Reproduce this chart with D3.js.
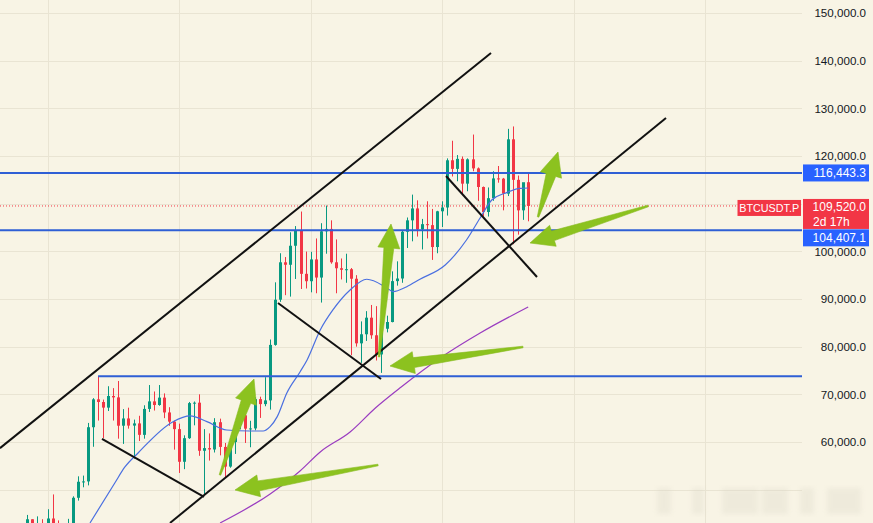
<!DOCTYPE html>
<html><head><meta charset="utf-8">
<script src="https://cdn.jsdelivr.net/npm/d3@7"></script>
<style>html,body{margin:0;padding:0;background:#f8f4e5;overflow:hidden}</style>
</head><body><svg id="c" width="873" height="523"></svg>
<script>
// Weekly candles, BTCUSDT.P (week index 0 = 27 Nov 2023)
const opens  = [37450,39970,43790,41370,43010,42280,43950,41730,41580,42030,42580,48300,51660,51730,63100,68950,68390,67210,69650,69360,63420,64940,63440,63900,61500,66940,68520,67760,69310,66200,64270,62700,55850,60800,68160,68250,58160,58720,58430,64150,58970,54840,59990,63580,65600,62800,62850,69000,67950,68730,80370,89850,97700,97180,101170,104300,95280,93730,98300,94500,104200,104700,97700,96450,96130,96250,94250,80700,82600,86080,82390,78370,83760,85170,93750,94300,104100,106500,109000,104600,105700,105500,100900,108400,109200,119100,117300,119400,114200,119300,117400,113500,108250,111150,115300,115250,112100,123500,115000,108600,114500];
const highs  = [40250,44700,43800,44400,43800,45900,49000,43550,42850,43880,48600,52800,52950,64000,69200,73777,68900,71700,71300,72800,66900,67200,64700,65500,67700,71950,70600,71950,70200,67300,64500,63850,61400,68400,68500,70000,62700,61800,65000,64900,59800,60700,64100,66500,66000,64450,69400,69500,73600,81500,93500,99600,98800,104000,105300,108350,99950,99900,102700,105900,109600,106500,102500,98500,99500,96500,95000,85300,87450,88750,88500,86100,86500,95800,97900,104400,107100,111900,110700,106800,110500,108900,108500,110500,119500,123200,120200,119900,119500,124500,117600,113600,113400,116800,117900,115400,125700,126200,115900,114000,116400];
const lows   = [37400,39970,40200,40550,41400,40750,41500,40280,38500,41800,42250,47700,50500,50900,59000,64500,60800,66500,64500,60700,59600,62800,56500,60200,60700,66300,66600,67600,65000,63400,58400,53500,54300,60650,63500,57100,49000,56100,57800,57200,52550,54600,57500,62650,59800,58900,62450,65050,67500,66800,80200,89400,90800,90500,94200,92100,92200,91400,91200,89250,99500,97400,91200,94100,93400,78200,80000,76600,81200,81650,77100,74500,83000,85100,92800,93400,100700,102100,103100,100400,102700,98200,99600,105100,107500,115700,114700,112000,112600,116800,110600,107300,107300,110600,114400,108600,111600,101500,103500,106600,106300];
const closes = [39970,43790,41370,43010,42280,43950,41730,41580,42030,42580,48300,51660,51730,63100,68950,68390,67210,69650,69360,63420,64940,63440,63900,61500,66940,68520,67760,69310,66200,64270,62700,55850,60800,68160,68250,58160,58720,58430,64150,58970,54840,59990,63580,65600,62800,62850,69000,67950,68730,80370,89850,97700,97180,101170,104300,95280,93730,98300,94500,104200,104700,97700,96450,96130,96250,94250,80700,82600,86080,82390,78370,83760,85170,93750,94300,104100,106500,109000,104600,105700,105500,100900,108400,109200,119100,117300,119400,114200,119300,117400,113500,108250,111150,115300,115250,112100,123500,115000,108600,114500,109520];

const priceTicks = [50000,60000,70000,80000,90000,100000,110000,120000,130000,140000,150000];
// 110,000.0 sits under the last-price box in the reference, so it is not printed
const priceLabels = [60000,70000,80000,90000,100000,120000,130000,140000,150000];
const timeGridWeeks = [5,31,57,83,109,135];

// moving averages: [week index, price]
const blueMA = [[13.4,43014],[18.3,51405],[20.3,54760],[22.9,57700],[29.8,64265],[33.2,65460],[36.5,64265],[40.4,62520],[45.0,62310],[47.6,62310],[49.0,63220],[50.4,65320],[52.3,70290],[54.9,74690],[56.3,77210],[58.9,83500],[61.4,87700],[64.8,91890],[68.1,94140],[72.0,92380],[73.3,91540],[76.0,92580],[78.6,94140],[83.6,97140],[87.8,102380],[90.5,107000],[92.8,110770],[95.4,112180],[98.4,113220],[100,113290]];
const purpleMA = [[39.1,43010],[49.0,49100],[54.9,53920],[58.9,57910],[64.8,62100],[69.8,67140],[74.9,71550],[82.6,77630],[90.5,82870],[100,88330]];

// drawings: trend lines [[week, price],[week, price]]
const trendLines = [
  [[-4.4,58700],[92.65,141609]],
  [[29.21,43014],[127.23,127974]],
  [[15.77,60636],[35.93,48469]],
  [[50.55,89165],[70.91,73222]],
  [[83.76,115807],[101.74,94619]]
];
const levelLines = [{price:116443.3, from:-10},{price:104407.1, from:-10},{price:73777, from:15}];
// arrows: [tail week, tail price, tip week, tip price]
const arrows = [
  [39.09,53084,45.81,73222],
  [70.32,55181,42.06,49937],
  [70.51,77837,72.89,105737],
  [98.97,79935,72.69,75949],
  [101.94,107206,105.89,120841],
  [123.68,109513,100.36,101752]
];
const lastPrice = 109520.0;
const symbol = "BTCUSDT.P";
const countdown = "2d 17h";

const W = 873, H = 523, plotR = 802;
const svg = d3.select('#c');
const x = d3.scaleLinear().domain([5,135]).range([47.5,705.3]);
const y = d3.scaleLinear().domain([60000,150000]).range([442,13]);
const fmt = d3.format(",.1f");

svg.append('rect').attr('width',W).attr('height',H).attr('fill','#f8f4e5');
const defs = svg.append('defs');
defs.append('clipPath').attr('id','plot').append('rect').attr('x',0).attr('y',0).attr('width',plotR).attr('height',H);
defs.append('filter').attr('id','blur').append('feGaussianBlur').attr('stdDeviation',2.5);

const plot = svg.append('g').attr('clip-path','url(#plot)');
// grid
plot.selectAll('line.hg').data(priceTicks).join('line')
  .attr('x1',0).attr('x2',plotR).attr('y1',d=>Math.round(y(d))+0.5).attr('y2',d=>Math.round(y(d))+0.5)
  .attr('stroke','#e9e4d3').attr('stroke-width',1);
plot.selectAll('line.vg').data(timeGridWeeks).join('line')
  .attr('x1',d=>Math.round(x(d))+0.5).attr('x2',d=>Math.round(x(d))+0.5).attr('y1',0).attr('y2',H)
  .attr('stroke','#e9e4d3').attr('stroke-width',1);

// last price dotted line
plot.append('line').attr('x1',0).attr('x2',737).attr('y1',y(lastPrice)).attr('y2',y(lastPrice))
  .attr('stroke','#f23645').attr('stroke-width',1).attr('stroke-dasharray','1,2');

// candles
const data = closes.map((c,i)=>({i,o:opens[i],h:highs[i],l:lows[i],c}));
const up='#089981', dn='#f23645';
const cg = plot.append('g');
cg.selectAll('line').data(data).join('line')
  .attr('x1',d=>Math.round(x(d.i))+0.5).attr('x2',d=>Math.round(x(d.i))+0.5)
  .attr('y1',d=>y(d.h)).attr('y2',d=>y(d.l))
  .attr('stroke',d=>d.c>=d.o?up:dn).attr('stroke-width',1);
cg.selectAll('rect').data(data).join('rect')
  .attr('x',d=>Math.round(x(d.i))-1).attr('width',3)
  .attr('y',d=>y(Math.max(d.o,d.c))).attr('height',d=>Math.max(1,Math.abs(y(d.o)-y(d.c))))
  .attr('fill',d=>d.c>=d.o?up:dn);

// moving averages
const line = d3.line().x(d=>x(d[0])).y(d=>y(d[1])).curve(d3.curveMonotoneX);
plot.append('path').attr('d',line(purpleMA)).attr('fill','none').attr('stroke','#9a3cc0').attr('stroke-width',1.2);
plot.append('path').attr('d',line(blueMA)).attr('fill','none').attr('stroke','#4a6fe0').attr('stroke-width',1.2);

// horizontal levels
plot.selectAll('line.lv').data(levelLines).join('line')
  .attr('x1',d=>x(d.from)).attr('x2',plotR).attr('y1',d=>y(d.price)).attr('y2',d=>y(d.price))
  .attr('stroke','#2f5fd5').attr('stroke-width',2);

// trend lines
plot.selectAll('line.tl').data(trendLines).join('line')
  .attr('x1',d=>x(d[0][0])).attr('y1',d=>y(d[0][1])).attr('x2',d=>x(d[1][0])).attr('y2',d=>y(d[1][1]))
  .attr('stroke','#111').attr('stroke-width',2);

// arrows
function arrowPath(a){
  const tx=x(a[0]), ty=y(a[1]), hx=x(a[2]), hy=y(a[3]);
  const dx=hx-tx, dy=hy-ty, len=Math.hypot(dx,dy);
  const ux=dx/len, uy=dy/len, nx=-uy, ny=ux;
  const L=24, bx=hx-ux*L, by=hy-uy*L;
  const pts=[[tx+nx*0.8,ty+ny*0.8],[bx+nx*5,by+ny*5],[bx+nx*11,by+ny*11],[hx,hy],[bx-nx*11,by-ny*11],[bx-nx*5,by-ny*5],[tx-nx*0.8,ty-ny*0.8]];
  return 'M'+pts.map(p=>p[0].toFixed(1)+','+p[1].toFixed(1)).join('L')+'Z';
}
plot.selectAll('path.ar').data(arrows).join('path').attr('d',arrowPath)
  .attr('fill','#8cc21f').attr('stroke','#86bb1c').attr('stroke-width',0.6);

// faint watermark (blurred)
const wm = svg.append('g').attr('filter','url(#blur)').attr('opacity',0.3);
[[657,14],[692,12],[722,36],[762,26],[800,14],[827,34]].forEach(r=>{
  wm.append('rect').attr('x',r[0]).attr('y',488).attr('width',r[1]).attr('height',26).attr('fill','#d9d5c6');
});

// price axis labels
const font = '"Liberation Sans", Arial, sans-serif';
svg.selectAll('text.tick').data(priceLabels).join('text')
  .attr('x',866).attr('y',d=>y(d)).attr('dy','0.36em').attr('text-anchor','end')
  .attr('font-family',font).attr('font-size',11.6).attr('fill','#131722').text(d=>fmt(d));

// label boxes
function box(xp,yTop,w,h,fill){ svg.append('rect').attr('x',xp).attr('y',yTop).attr('width',w).attr('height',h).attr('fill',fill); }
function txt(xp,yp,s,anchor,size){ svg.append('text').attr('x',xp).attr('y',yp).attr('dy','0.36em').attr('text-anchor',anchor)
  .attr('font-family',font).attr('font-size',size||12).attr('fill','#fff').text(s); }
const y1 = y(levelLines[0].price), y2 = y(levelLines[1].price), yl = y(lastPrice);
box(803,y1-8.5,66,17,'#2962ff'); txt(866,y1,fmt(levelLines[0].price),'end');
box(803,yl-7,66,30,'#f23645'); txt(866,yl+0.5,fmt(lastPrice),'end'); txt(813,yl+15.5,countdown,'start');
box(737.5,yl-6,63.5,16,'#f23645'); txt(769.2,yl+2,symbol,'middle',10.8);
box(803,y2-1,66,17,'#2962ff'); txt(866,y2+7.5,fmt(levelLines[1].price),'end');
</script></body></html>
